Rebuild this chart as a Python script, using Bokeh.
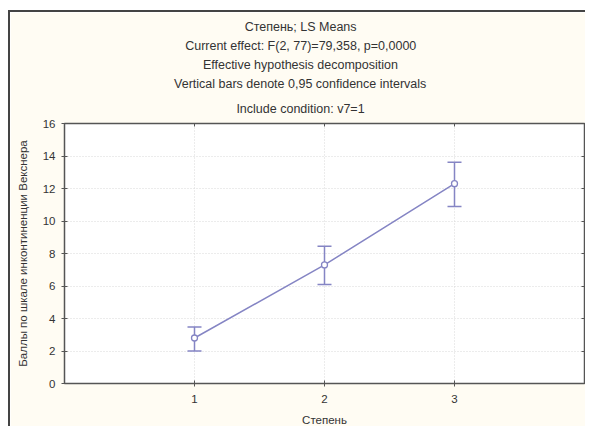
from bokeh.plotting import figure
from bokeh.models import (ColumnDataSource, Whisker, TeeHead, Title, LinearAxis,
                          FixedTicker, Range1d)
from bokeh.embed import file_html
from bokeh.resources import INLINE

# Data
levels = [1, 2, 3]
ls_means = [2.8, 7.3, 12.3]
ci_lower = [2.0, 6.1, 10.9]
ci_upper = [3.48, 8.45, 13.62]
y_ticks = [0, 2, 4, 6, 8, 10, 12, 14, 16]
x_ticks = [1, 2, 3]

title_lines = [
    "Степень; LS Means",
    "Current effect: F(2, 77)=79,358, p=0,0000",
    "Effective hypothesis decomposition",
    "Vertical bars denote 0,95 confidence intervals",
    "Include condition: v7=1",
]
x_label = "Степень"
y_label = "Баллы по шкале инконтиненции Векснера"

FONT = "Liberation Sans"
TXT = "#333333"
LINE = "#8585c4"
EDGE = "#555555"
TITLE_PX = 12.5

# approximate Liberation Sans advance widths (1/1000 em) to centre title lines
_W = {" ": 278, "!": 278, "(": 333, ")": 333, ",": 278, ".": 278, ":": 278,
      ";": 278, "=": 584, "I": 278, "C": 722, "E": 667, "L": 556, "M": 833,
      "S": 667, "V": 667, "f": 278, "i": 222, "j": 222, "l": 222, "r": 333,
      "t": 278, "c": 500, "k": 500, "s": 500, "v": 500, "x": 500, "y": 500,
      "z": 500, "m": 833, "w": 722, "С": 722, "т": 438, "п": 546, "н": 546,
      "ь": 515, "е": 556}


def text_width(s, px):
    return sum(_W.get(ch, 556) for ch in s) * px / 1000.0


FRAME_LEFT = 54          # frame left inside the canvas
TITLE_CENTRE = 290       # title centre inside the canvas

src = ColumnDataSource(dict(x=levels, y=ls_means, lo=ci_lower, hi=ci_upper))

p = figure(width=577, height=416, output_backend="svg", toolbar_location=None,
           x_range=Range1d(0, 4), y_range=Range1d(0, 16),
           min_border_left=FRAME_LEFT, min_border_right=3, min_border_top=111,
           min_border_bottom=44,
           background_fill_color="white", border_fill_color="#fffcf3")
p.styles = {"margin-left": "8px", "margin-top": "10px",
            "border-left": "2px solid #444444", "border-top": "2px solid #444444"}

p.outline_line_color = EDGE
p.outline_line_width = 1.5

bottom_axis = p.below[0]
left_axis = p.left[0]

ta = LinearAxis(ticker=FixedTicker(ticks=x_ticks), axis_line_color=None,
                major_tick_line_color=EDGE, major_tick_in=3, major_tick_out=0,
                minor_tick_line_color=None,
                major_label_overrides={t: "" for t in x_ticks})
p.add_layout(ta, "above")

# Title block: added from the line nearest the frame outwards
for i, t in enumerate(reversed(title_lines)):
    off = TITLE_CENTRE - text_width(t, TITLE_PX) / 2 - FRAME_LEFT
    p.add_layout(Title(text=t, align="left", offset=off, text_font=FONT,
                       text_font_size=f"{TITLE_PX}px", text_font_style="normal",
                       text_color=TXT, standoff=15 if i == 0 else 3), "above")

for ax in (bottom_axis, left_axis):
    ax.axis_line_color = None
    ax.major_tick_line_color = EDGE
    ax.major_tick_in = 3
    ax.major_tick_out = 3
    ax.minor_tick_line_color = None
    ax.major_label_text_font = FONT
    ax.major_label_text_font_size = "11.5px"
    ax.major_label_text_color = TXT
    ax.axis_label_text_font = FONT
    ax.axis_label_text_font_size = "11.5px"
    ax.axis_label_text_font_style = "normal"
    ax.axis_label_text_color = TXT

bottom_axis.ticker = FixedTicker(ticks=x_ticks)
left_axis.ticker = FixedTicker(ticks=y_ticks)
bottom_axis.axis_label = x_label
left_axis.axis_label = y_label
bottom_axis.major_label_standoff = 8
bottom_axis.axis_label_standoff = 8
left_axis.major_label_standoff = 6
left_axis.axis_label_standoff = 11

ra = LinearAxis(ticker=FixedTicker(ticks=y_ticks), axis_line_color=None,
                major_tick_line_color=EDGE, major_tick_in=3, major_tick_out=3,
                minor_tick_line_color=None,
                major_label_overrides={t: "" for t in y_ticks})
p.add_layout(ra, "right")

p.xgrid.ticker = FixedTicker(ticks=x_ticks)
p.ygrid.ticker = FixedTicker(ticks=y_ticks)
for g in (p.xgrid[0], p.ygrid[0]):
    g.grid_line_color = "#d8d8d8"
    g.grid_line_dash = "1 2"
    g.grid_line_width = 1

p.line("x", "y", source=src, line_color=LINE, line_width=1.5)
w = Whisker(source=src, base="x", upper="hi", lower="lo", dimension="height",
            line_color=LINE, line_width=1.5,
            upper_head=TeeHead(size=14, line_color=LINE, line_width=1.5),
            lower_head=TeeHead(size=14, line_color=LINE, line_width=1.5))
p.add_layout(w)
p.scatter("x", "y", source=src, size=6, fill_color="white", line_color=LINE,
          line_width=1.3)

open("out.html", "w").write(file_html(p, INLINE))
